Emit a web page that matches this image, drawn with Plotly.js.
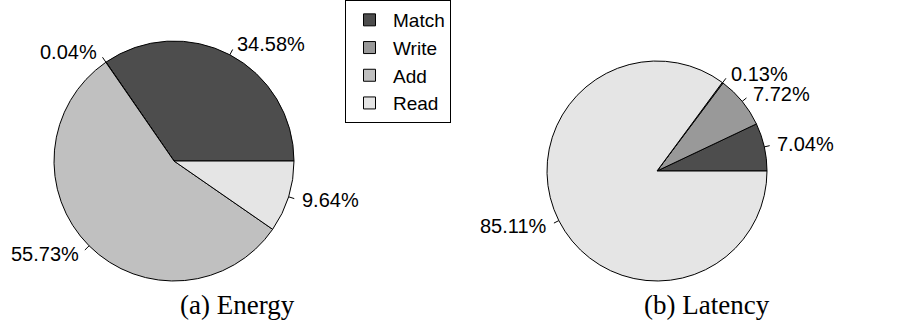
<!DOCTYPE html>
<html><head><meta charset="utf-8">
<script src="https://cdn.plot.ly/plotly-3.0.1.min.js"></script>
<style>html,body{margin:0;padding:0;background:#fff}#chart{width:921px;height:324px}</style>
</head><body><div id="chart"></div>
<script>
// Data
const energyLabels = ['Match', 'Write', 'Add', 'Read'];
const energyValues = [34.58, 0.04, 55.73, 9.64];
const latencyLabels = ['Match', 'Add', 'Write', 'Read'];
const latencyValues = [7.04, 7.72, 0.13, 85.11];
const captions = ['(a) Energy', '(b) Latency'];
const sliceColors = ['#4d4d4d', '#999999', '#c0c0c0', '#e5e5e5'];

const W = 921, H = 324;
// geometry (pixels)
const pieGeo = [
  {cx: 174, cy: 161, r: 120, capX: 237},
  {cx: 657, cy: 171, r: 110, capX: 707}
];
const capY = 305;

function domainFor(g) {
  return {x: [(g.cx - g.r) / W, (g.cx + g.r) / W], y: [(H - g.cy - g.r) / H, (H - g.cy + g.r) / H]};
}

const datasets = [
  {labels: energyLabels, values: energyValues, legend: 'legend'},
  {labels: latencyLabels, values: latencyValues, legend: 'legend2'}
];

const traces = [], shapes = [], annotations = [];
datasets.forEach((d, k) => {
  const g = pieGeo[k];
  const total = d.values.reduce((a, b) => a + b, 0);
  // first slice starts at 3 o'clock and runs counterclockwise
  const firstDeg = d.values[0] / total * 360;
  traces.push({
    type: 'pie', labels: d.labels, values: d.values, sort: false,
    direction: 'counterclockwise', rotation: 90 - firstDeg, textinfo: 'none', hoverinfo: 'none',
    marker: {colors: sliceColors, line: {color: '#000', width: 1}},
    domain: domainFor(g), legend: d.legend, showlegend: true
  });
  let cum = 0;
  d.values.forEach(v => {
    const mid = (cum + v / 2) / total * 2 * Math.PI;
    cum += v;
    const c = Math.cos(mid), s = Math.sin(mid);
    shapes.push({type: 'line', xref: 'paper', yref: 'paper',
      x0: (g.cx + g.r * c) / W, y0: 1 - (g.cy - g.r * s) / H,
      x1: (g.cx + 1.05 * g.r * c) / W, y1: 1 - (g.cy - 1.05 * g.r * s) / H,
      line: {color: '#000', width: 1}});
    annotations.push({xref: 'paper', yref: 'paper', showarrow: false,
      x: (g.cx + 1.1 * g.r * c) / W, y: 1 - (g.cy - 1.1 * g.r * s) / H,
      xanchor: c >= 0 ? 'left' : 'right', yanchor: 'middle',
      text: v.toFixed(2) + '%', font: {family: 'Liberation Sans, Arial, sans-serif', size: 20, color: '#000'}});
  });
  annotations.push({xref: 'paper', yref: 'paper', showarrow: false,
    x: g.capX / W, y: 1 - capY / H, xanchor: 'center', yanchor: 'middle',
    text: captions[k], font: {family: 'Liberation Serif, Times New Roman, serif', size: 27, color: '#000'}});
});

const legendStyle = {bgcolor: '#fff', bordercolor: '#000', borderwidth: 1,
  font: {family: 'Liberation Sans, Arial, sans-serif', size: 19, color: '#000'},
  xanchor: 'left', yanchor: 'top', traceorder: 'normal', itemwidth: 37};

const layout = {
  width: W, height: H, margin: {l: 0, r: 0, t: 0, b: 0},
  paper_bgcolor: '#fff', plot_bgcolor: '#fff',
  shapes: shapes, annotations: annotations,
  legend: Object.assign({}, legendStyle, {x: 345 / W, y: 1}),
  legend2: Object.assign({}, legendStyle, {x: 819 / W, y: 1 - 23 / H})
};
Plotly.newPlot('chart', traces, layout, {displayModeBar: false, staticPlot: true});
</script></body></html>
